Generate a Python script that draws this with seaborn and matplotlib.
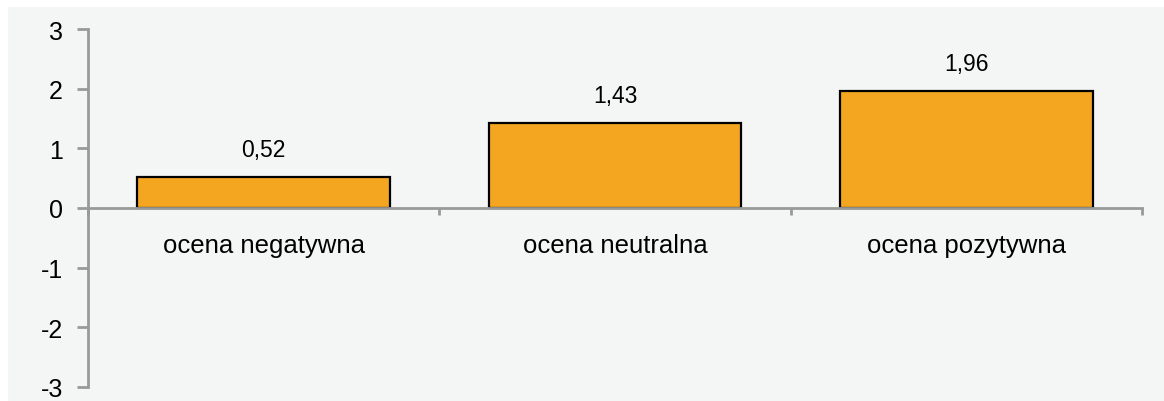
import matplotlib
matplotlib.use("Agg")
import matplotlib.pyplot as plt
import matplotlib.patches as patches
import seaborn as sns

# data
categories = ["ocena negatywna", "ocena neutralna", "ocena pozytywna"]
values = [0.52, 1.43, 1.96]
value_labels = ["0,52", "1,43", "1,96"]
y_ticks = [-3, -2, -1, 0, 1, 2, 3]

bg = "#F4F5F5"
bar_color = "#F5A620"
axis_grey = "#999999"

sns.set_theme(style="white")
plt.rcParams["font.family"] = ["Liberation Sans", "DejaVu Sans"]

fig = plt.figure(figsize=(11.64, 4.02), dpi=100)
fig.patch.set_facecolor("white")
fig.add_artist(patches.Rectangle((8 / 1164, 0), 1, 394 / 402, transform=fig.transFigure,
                                 facecolor=bg, edgecolor="none", zorder=-10))

ax = fig.add_axes([88 / 1164, 14 / 402, (1142 - 88) / 1164, (388 - 30) / 402])
ax.set_facecolor("none")

sns.barplot(x=categories, y=values, color=bar_color, edgecolor="black",
            linewidth=1.6, width=0.72, saturation=1, ax=ax)

ax.set_xlim(-0.5, 2.5)
ax.set_ylim(-3, 3)

# axes styling
for side in ["top", "right"]:
    ax.spines[side].set_visible(False)
ax.spines["left"].set_color(axis_grey)
ax.spines["left"].set_linewidth(2)
ax.spines["bottom"].set_color(axis_grey)
ax.spines["bottom"].set_linewidth(2)
ax.spines["bottom"].set_position(("data", 0))
ax.spines["bottom"].set_zorder(5)

ax.set_yticks(y_ticks)
ax.set_yticklabels([str(t) for t in y_ticks], fontsize=18, color="black")
ax.tick_params(axis="y", direction="out", length=8, width=2, color=axis_grey, pad=10, left=True)

ax.set_xticks([-0.5, 0.5, 1.5, 2.5])
ax.set_xticklabels([])
ax.tick_params(axis="x", direction="out", length=5, width=2, color=axis_grey, bottom=True)
ax.set_xlabel("")
ax.set_ylabel("")

# category labels under the zero line
for i, name in enumerate(categories):
    ax.text(i, -0.73, name, ha="center", va="baseline", fontsize=18.5, color="black")

# value labels above bars
for i, (v, lab) in enumerate(zip(values, value_labels)):
    ax.text(i, v + 0.35, lab, ha="center", va="baseline", fontsize=16.5,
            family=["Liberation Sans Narrow", "Liberation Sans", "DejaVu Sans"], color="black")

fig.savefig("out.png", dpi=100, facecolor=fig.get_facecolor())
